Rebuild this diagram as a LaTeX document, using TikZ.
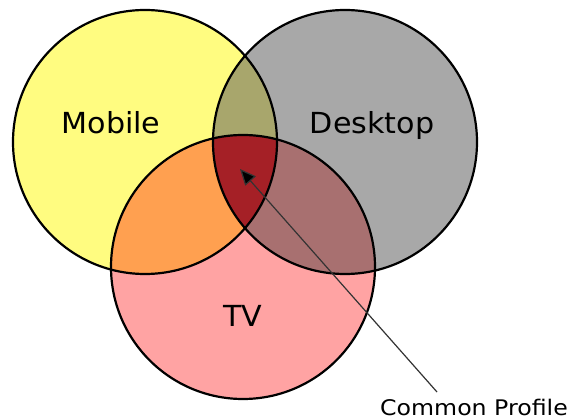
\documentclass[tikz,border=0pt]{standalone}
\usepackage{fontspec}
\setmainfont{DejaVu Sans}
\newfontfamily\bigfont[FakeStretch=1.04]{DejaVu Sans}
\newfontfamily\widefont[FakeStretch=1.1]{DejaVu Sans}
\usetikzlibrary{arrows.meta}
\definecolor{cyel}{RGB}{255,252,128}
\definecolor{cgray}{RGB}{168,168,168}
\definecolor{cpink}{RGB}{255,163,163}
\definecolor{colive}{RGB}{168,166,108}
\definecolor{corange}{RGB}{255,160,80}
\definecolor{cmauve}{RGB}{168,112,112}
\definecolor{cred}{RGB}{165,32,38}
\begin{document}
\begin{tikzpicture}[x=1pt,y=1pt,
  ring/.style={circle,draw=black,line width=2.2pt,minimum size=264pt,inner sep=0pt},
  lbl/.style={font=\bigfont\fontsize{29}{34}\selectfont,text=black,inner sep=0pt,anchor=base},
  small/.style={font=\widefont\fontsize{21.5}{25}\selectfont,text=black,inner sep=0pt}]
\useasboundingbox (0,0) rectangle (571,-419);
\fill[white] (0,0) rectangle (571,-419);
\coordinate (cM) at (145,-142);
\coordinate (cD) at (345,-142);
\coordinate (cT) at (243,-267);
% base fills
\fill[cyel] (cM) circle[radius=132];
\fill[cgray] (cD) circle[radius=132];
\fill[cpink] (cT) circle[radius=132];
% pairwise
\begin{scope}\clip (cM) circle[radius=132]; \fill[colive] (cD) circle[radius=132];\end{scope}
\begin{scope}\clip (cM) circle[radius=132]; \fill[corange] (cT) circle[radius=132];\end{scope}
\begin{scope}\clip (cD) circle[radius=132]; \fill[cmauve] (cT) circle[radius=132];\end{scope}
\begin{scope}\clip (cM) circle[radius=132]; \clip (cD) circle[radius=132]; \fill[cred] (cT) circle[radius=132];\end{scope}
% outlines
\node[ring] (mobile) at (cM) {};
\node[ring] (desktop) at (cD) {};
\node[ring] (tv) at (cT) {};
% labels
\node[lbl] (lm) at (111,-134) {Mobile};
\node[lbl] (ld) at (372,-134) {Desktop};
\node[lbl] (lt) at (243,-327) {TV};
\node[small,anchor=west] (cp) at (380,-407) {Common Profile};
\coordinate (tip) at (240,-169);
\coordinate (tail) at (437,-392);
\draw[line width=1.2pt,black!80,-{Triangle[length=16pt,width=14pt,fill=black]}] (tail) -- (tip);
\end{tikzpicture}
\end{document}
